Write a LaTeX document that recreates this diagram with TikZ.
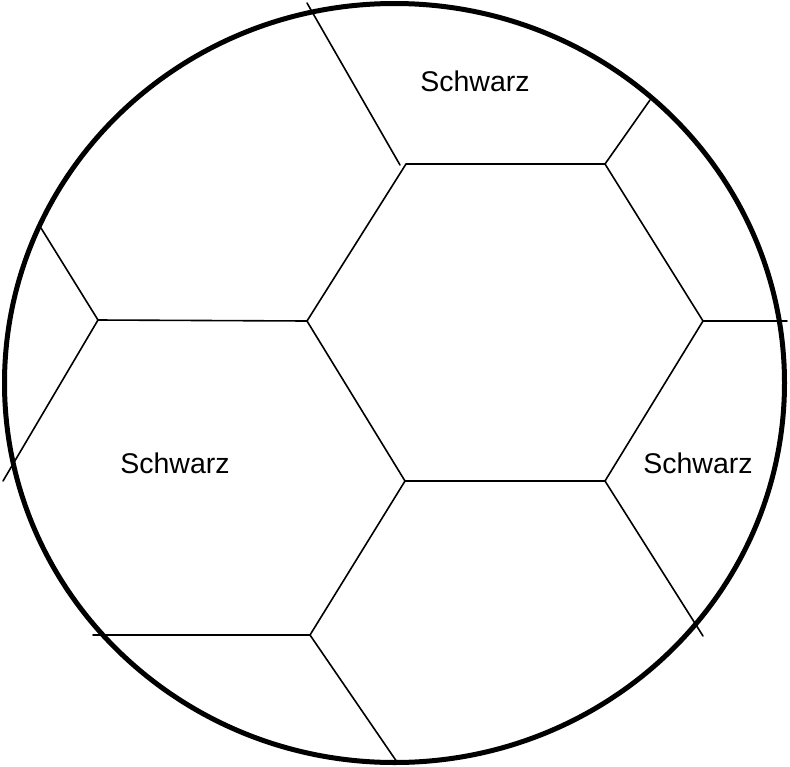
\documentclass[tikz,border=0pt]{standalone}
\usepackage{fontspec}
\setmainfont{Liberation Sans}
\begin{document}
\begin{tikzpicture}[x=1pt,y=-1pt,
  seam/.style={line width=1.6pt, line cap=round},
  ballrim/.style={line width=5pt},
  lbl/.style={font=\fontsize{28.5}{32}\selectfont, inner sep=0pt}]
\useasboundingbox (0,0) rectangle (790,766);
% hexagon vertices
\coordinate (A) at (406,164);
\coordinate (B) at (605,164);
\coordinate (C) at (703,321);
\coordinate (D) at (605,481);
\coordinate (E) at (405,481);
\coordinate (F) at (307,321);
\coordinate (G) at (310,635);
\coordinate (H) at (98,320);
% free ends
\coordinate (t1) at (307,3);
\coordinate (t2) at (400,165);
\coordinate (b1) at (650,100);
\coordinate (c1) at (787,321);
\coordinate (d1) at (703,636);
\coordinate (g1) at (93,635);
\coordinate (g2) at (397,762);
\coordinate (h1) at (41,228);
\coordinate (h2) at (3,481);
\draw[ballrim] (394.5,383) ellipse [x radius=390, y radius=379.5];
\draw[seam] (A) -- (B) -- (C) -- (D) -- (E) -- (F) -- cycle;
\draw[seam] (t1) -- (t2);
\draw[seam] (B) -- (b1);
\draw[seam] (C) -- (c1);
\draw[seam] (D) -- (d1);
\draw[seam] (E) -- (G);
\draw[seam] (G) -- (g1);
\draw[seam] (G) -- (g2);
\draw[seam] (F) -- (H);
\draw[seam] (H) -- (h1);
\draw[seam] (H) -- (h2);
\node[lbl] (s1) at (475,81) {Schwarz};
\node[lbl] (s2) at (175,463) {Schwarz};
\node[lbl] (s3) at (698,463) {Schwarz};
\end{tikzpicture}
\end{document}
